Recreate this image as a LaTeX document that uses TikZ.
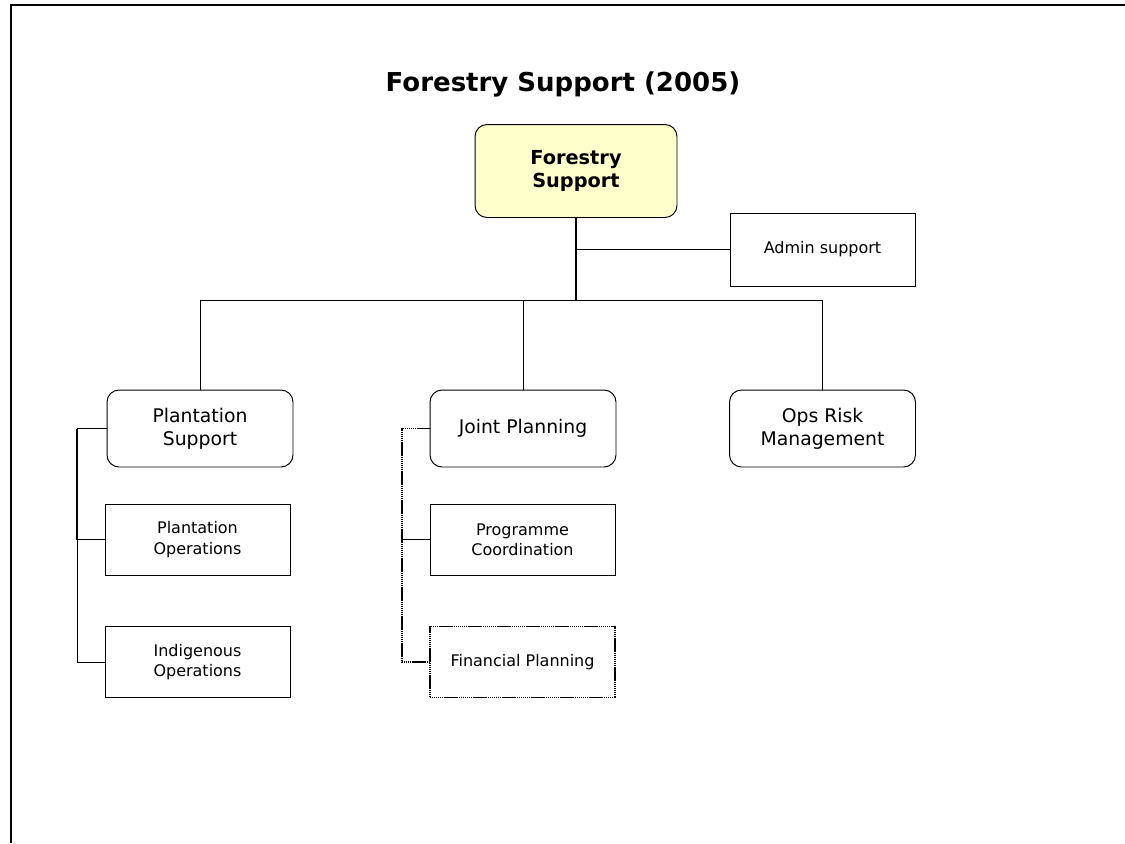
\documentclass[tikz,border=0pt]{standalone}
\usepackage{fontspec}
\setmainfont{DejaVu Sans}
\usetikzlibrary{positioning}
\definecolor{paleyellow}{HTML}{FFFFCC}
\tikzset{
  head/.style={draw,rounded corners=0.24cm,fill=paleyellow,minimum width=4.04cm,minimum height=1.86cm,align=center,font=\bfseries\fontsize{11}{13}\selectfont},
  unit/.style={draw,rounded corners=0.24cm,minimum width=3.72cm,minimum height=1.54cm,align=center,font=\fontsize{10.7}{13}\selectfont},
  team/.style={draw,minimum width=3.7cm,minimum height=1.42cm,align=center,font=\fontsize{9.1}{11.5}\selectfont},
  trunk/.style={line width=1.1pt},
  dotline/.style={line width=1.1pt,dash pattern=on 0.8pt off 0.3pt}
}

\begin{document}
\begin{tikzpicture}[x=0.02cm,y=-0.02cm,line width=0.55pt]
\useasboundingbox (0,0) rectangle (1125,843);
% frame
\draw [trunk] (11,843) -- (11,5) -- (1125,5);
\node (title) [font=\bfseries\fontsize{14.8}{17}\selectfont] at (563,84) {Forestry Support (2005)};

% boxes
\node (fs) [head] at (576,171) {Forestry\\Support};
\node (admin) [team,minimum height=1.46cm] at (822.5,249.5) {Admin support};
\node (ps) [unit] at (200,428.5) {Plantation\\Support};
\node (jp) [unit] at (523,428.5) {Joint Planning};
\node (ops) [unit] at (822.5,428.5) {Ops Risk\\Management};
\node (po) [team] at (197.5,539.5) {Plantation\\Operations};
\node (io) [team] at (197.5,662) {Indigenous\\Operations};
\node (pc) [team] at (522.5,539.5) {Programme\\Coordination};
\node (fp) [team,dotline] at (522.5,662) {Financial Planning};

% connectors
\coordinate (bar) at (576,300);
\coordinate (pspine) at (77,428.5);
\coordinate (jspine) at (402,428.5);
\draw [trunk] (fs.south) -- (bar);
\draw (fs.south |- admin.west) -- (admin.west);
\draw (ps.north |- bar) -- (ops.north |- bar);
\draw (ps.north |- bar) -- (ps.north);
\draw (jp.north |- bar) -- (jp.north);
\draw (ops.north |- bar) -- (ops.north);
\draw (ps.west) -- (pspine);
\draw [trunk] (pspine) -- (pspine |- po.west);
\draw (pspine |- po.west) -- (po.west);
\draw (pspine |- po.west) -- (pspine |- io.west) -- (io.west);
\draw [dotline] (jp.west) -- (jspine) -- (jspine |- fp.west) -- (fp.west);
\draw (jspine |- pc.west) -- (pc.west);
\end{tikzpicture}
\end{document}
